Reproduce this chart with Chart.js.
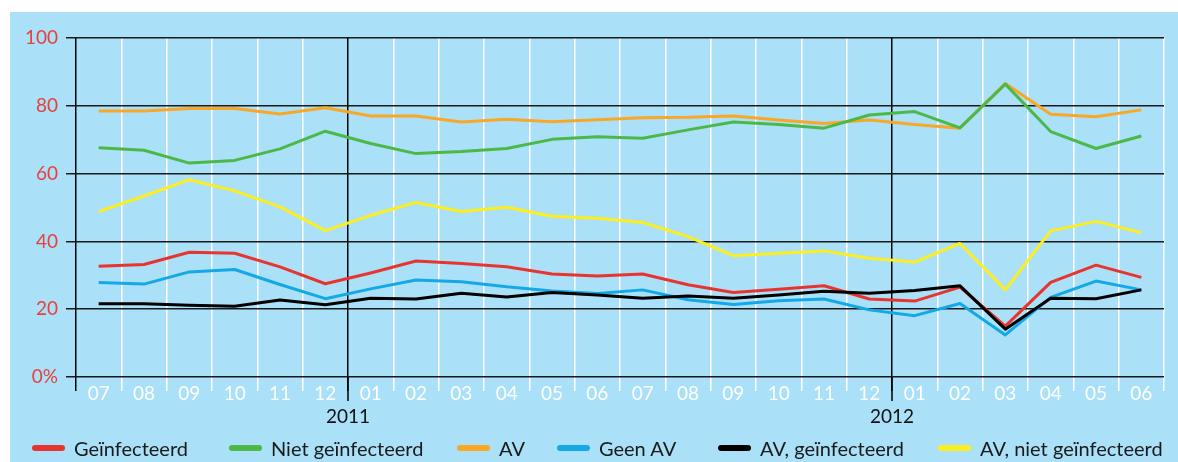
<!DOCTYPE html>
<html>
<head>
<meta charset="utf-8">
<script src="https://cdn.jsdelivr.net/npm/chart.js@4/dist/chart.umd.min.js"></script>
<style>
html,body{margin:0;padding:0;background:#fff;}
#wrap{position:relative;width:1178px;height:462px;overflow:hidden;}
canvas{position:absolute;left:0;top:0;}
#legend{position:absolute;left:0;top:0;width:1178px;height:462px;pointer-events:none;font-family:Lato,"Open Sans",sans-serif;}
.item{position:absolute;top:436px;height:24px;display:flex;align-items:center;font-size:20px;color:#1a1a1a;white-space:nowrap;}
.sw{width:33px;height:6px;border-radius:3px;margin-right:9px;}
</style>
</head>
<body>
<div id="wrap">
<canvas id="c" width="1178" height="462"></canvas>
<div id="legend"></div>
</div>
<script>
// ---- data ----
const months = ['07','08','09','10','11','12','01','02','03','04','05','06','07','08','09','10','11','12','01','02','03','04','05','06'];
const yearLabels = ['2011','2012'];
const yTicks = [0,20,40,60,80,100];

const geinfecteerd       = [32.7,33.2,36.8,36.5,32.5,27.5,30.7,34.2,33.5,32.5,30.4,29.8,30.4,27.2,24.9,25.9,26.9,23.0,22.4,26.5,15.0,27.9,33.0,29.4];
const nietGeinfecteerd   = [67.6,66.9,63.1,63.9,67.3,72.5,68.9,65.9,66.5,67.4,70.1,70.9,70.4,72.9,75.2,74.5,73.4,77.3,78.3,73.5,86.4,72.4,67.4,71.1];
const av                 = [78.5,78.5,79.2,79.2,77.6,79.4,77.0,77.0,75.2,76.0,75.3,75.9,76.5,76.6,77.0,75.8,74.8,75.8,74.5,73.4,86.6,77.5,76.8,78.8];
const geenAV             = [27.9,27.4,31.0,31.7,27.3,23.1,26.0,28.6,28.1,26.6,25.4,24.6,25.7,22.8,21.4,22.5,23.0,19.8,18.1,21.7,12.4,23.5,28.3,25.7];
const avGeinfecteerd     = [21.6,21.6,21.2,20.9,22.7,21.3,23.2,23.0,24.7,23.6,24.9,24.2,23.2,23.9,23.2,24.2,25.3,24.7,25.5,26.9,14.1,23.2,23.1,25.7];
const avNietGeinfecteerd = [48.8,53.4,58.2,54.9,50.2,43.2,47.7,51.5,48.8,50.1,47.4,46.8,45.6,41.4,35.8,36.5,37.2,35.0,33.9,39.4,25.7,43.1,45.9,42.6];

const seriesLabels = ['Geïnfecteerd','Niet geïnfecteerd','AV','Geen AV','AV, geïnfecteerd','AV, niet geïnfecteerd'];
const seriesData = [geinfecteerd, nietGeinfecteerd, av, geenAV, avGeinfecteerd, avNietGeinfecteerd];

// ---- styles / layout ----
const colors = ['#e8342e','#4cb848','#f8a826','#12a9e6','#000000','#fcee21'];
const drawOrder = [1,0,2,3,0,4];
const BG = '#abe0f9';
const FONT = 'Lato, "Open Sans", sans-serif';
const legendLeft = [32,229,457,557,718,938];
const yearStarts = months.map((m,i)=>m==='01'?i:-1).filter(i=>i>0);

const bgPlugin = {
  id:'bg',
  beforeDraw(chart){
    const ctx = chart.ctx;
    ctx.save();
    ctx.fillStyle = BG;
    ctx.fillRect(10,12,chart.width-10,chart.height-12);
    ctx.restore();
  }
};

const yearPlugin = {
  id:'years',
  afterDraw(chart){
    const x = chart.scales.x, ctx = chart.ctx, area = chart.chartArea;
    ctx.save();
    yearStarts.forEach((idx,k)=>{
      const px = Math.round((x.getPixelForValue(idx-1)+x.getPixelForValue(idx))/2);
      ctx.strokeStyle = '#000';
      ctx.lineWidth = 1.5;
      ctx.beginPath();
      ctx.moveTo(px, area.bottom);
      ctx.lineTo(px, area.bottom+24);
      ctx.stroke();
      ctx.fillStyle = '#111';
      ctx.font = '19px ' + FONT;
      ctx.textAlign = 'center';
      ctx.textBaseline = 'middle';
      ctx.fillText(yearLabels[k], px, area.bottom+40);
    });
    ctx.restore();
  }
};

const chart = new Chart(document.getElementById('c'), {
  type:'line',
  data:{
    labels: months,
    datasets: seriesData.map((d,i)=>({
      label: seriesLabels[i],
      data: d,
      borderColor: colors[i],
      backgroundColor: colors[i],
      borderWidth: 3,
      pointRadius: 0,
      tension: 0,
      fill: false,
      order: drawOrder[i],
      borderJoinStyle: 'round'
    }))
  },
  options:{
    responsive:false,
    devicePixelRatio:1,
    animation:false,
    layout:{padding:{left:0,top:38,right:14,bottom:0}},
    plugins:{legend:{display:false},tooltip:{enabled:false}},
    scales:{
      x:{
        offset:true,
        afterFit(s){ s.height = 85; },
        border:{display:false},
        grid:{
          offset:true,
          drawOnChartArea:true,
          drawTicks:true,
          tickLength:14,
          lineWidth:1.5,
          color(ctx){ const i = ctx.index; return (i===0 || yearStarts.includes(i)) ? '#000' : '#ffffff'; },
          tickColor(ctx){ const i = ctx.index; return (i===0 || yearStarts.includes(i)) ? '#000' : '#ffffff'; }
        },
        ticks:{
          color:'#ffffff',
          font:{family:FONT,size:19},
          padding:-9,
          maxRotation:0,
          autoSkip:false
        }
      },
      y:{
        min:0,max:100,
        afterFit(s){ s.width = 76; },
        afterBuildTicks(s){ s.ticks = yTicks.map(v=>({value:v})); },
        border:{display:false},
        grid:{color:'#1a1a1a',lineWidth:1.5,tickLength:10,tickColor:'#1a1a1a'},
        ticks:{
          color:'#e8413c',
          font:{family:FONT,size:19},
          padding:8,
          callback(v){ return v===0 ? '0%' : String(v); }
        }
      }
    }
  },
  plugins:[bgPlugin, yearPlugin]
});

// HTML legend built from the chart's datasets
const leg = document.getElementById('legend');
chart.data.datasets.forEach((ds,i)=>{
  const it = document.createElement('div');
  it.className = 'item';
  it.style.left = legendLeft[i] + 'px';
  const sw = document.createElement('span');
  sw.className = 'sw';
  sw.style.background = ds.borderColor;
  const tx = document.createElement('span');
  tx.textContent = ds.label;
  it.appendChild(sw); it.appendChild(tx);
  leg.appendChild(it);
});
</script>
</body>
</html>
